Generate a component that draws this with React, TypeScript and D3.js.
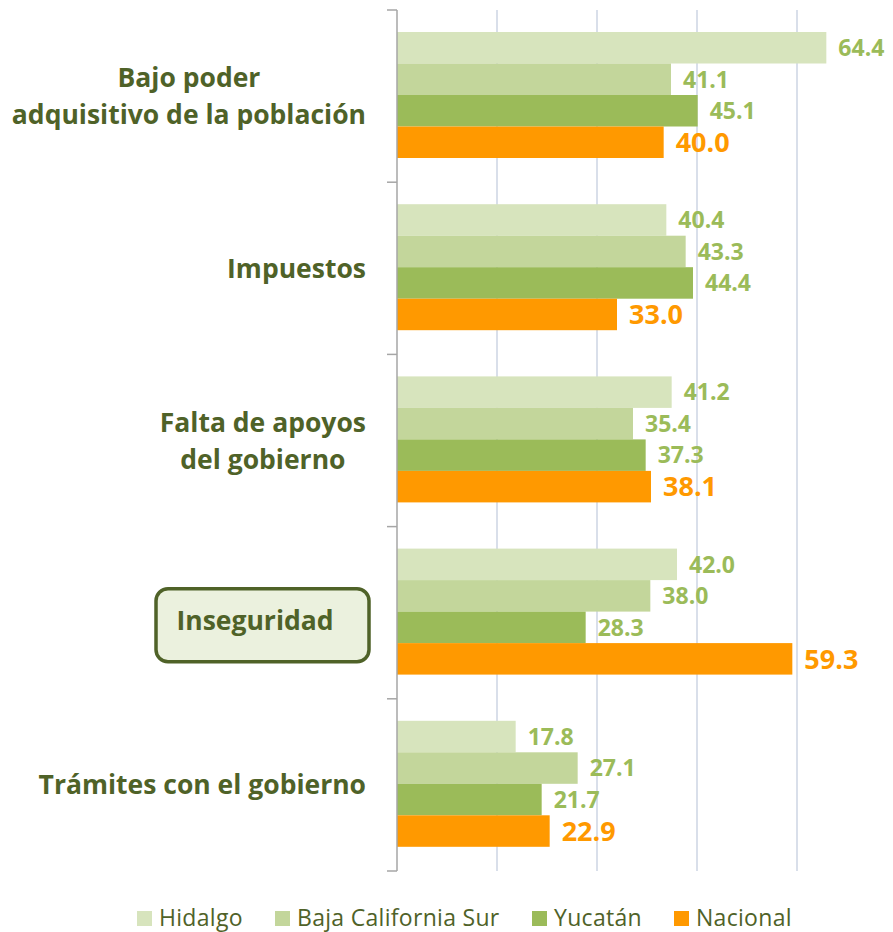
import { useEffect, useRef } from "react";
import * as d3 from "d3";

const categories = [
  ["Bajo poder", "adquisitivo de la población"],
  ["Impuestos"],
  ["Falta de apoyos", "del gobierno"],
  ["Inseguridad"],
  ["Trámites con el gobierno"],
];
const seriesNames = ["Hidalgo", "Baja California Sur", "Yucatán", "Nacional"];
const hidalgo = [64.4, 40.4, 41.2, 42.0, 17.8];
const bcs = [41.1, 43.3, 35.4, 38.0, 27.1];
const yucatan = [45.1, 44.4, 37.3, 28.3, 21.7];
const nacional = [40.0, 33.0, 38.1, 59.3, 22.9];
const gridTicks = [15, 30, 45, 60];
const highlighted = 3;

const colors = ["#d7e4bd", "#c3d69b", "#9bbb59", "#ff9900"];
const labelColors = ["#9bbb59", "#9bbb59", "#9bbb59", "#ff9900"];
const textColor = "#4f6228";
const font = "'Open Sans', sans-serif";

export default function App() {
  const ref = useRef<SVGSVGElement>(null);

  useEffect(() => {
    const left = 397, top = 10, bottom = 871;
    const svg = d3.select(ref.current);
    svg.selectAll("*").remove();

    const values = [hidalgo, bcs, yucatan, nacional];

    const x = d3.scaleLinear().domain([0, 75]).range([left, left + 500]);
    const y = d3.scaleBand<number>()
      .domain(d3.range(categories.length))
      .range([top, bottom]);
    const inner = d3.scaleBand<number>()
      .domain(d3.range(seriesNames.length))
      .range([22, 148]);

    // grid
    svg.append("g").selectAll("line")
      .data(gridTicks)
      .join("line")
      .attr("x1", d => x(d)).attr("x2", d => x(d))
      .attr("y1", top).attr("y2", bottom)
      .attr("stroke", "#d9dfea").attr("stroke-width", 2);

    // bars + value labels
    categories.forEach((_, ci) => {
      const g = svg.append("g").attr("transform", `translate(0,${y(ci)})`);
      values.forEach((arr, si) => {
        const v = arr[ci];
        g.append("rect")
          .attr("x", x(0))
          .attr("y", inner(si)!)
          .attr("width", x(v) - x(0))
          .attr("height", inner.bandwidth())
          .attr("fill", colors[si]);
        g.append("text")
          .attr("x", x(v) + 12)
          .attr("y", inner(si)! + inner.bandwidth() / 2)
          .attr("dy", "0.36em")
          .attr("fill", labelColors[si])
          .attr("font-family", font)
          .attr("font-weight", "bold")
          .attr("font-size", si === 3 ? 27 : 23)
          .text(v.toFixed(1));
      });
    });

    // axis line + ticks
    const axis = svg.append("g");
    axis.append("line")
      .attr("x1", left).attr("x2", left)
      .attr("y1", top).attr("y2", bottom)
      .attr("stroke", "#a6a6a6").attr("stroke-width", 1.5);
    axis.selectAll("line.tick")
      .data(d3.range(categories.length + 1))
      .join("line")
      .attr("class", "tick")
      .attr("x1", left - 10).attr("x2", left)
      .attr("y1", d => top + d * y.step()).attr("y2", d => top + d * y.step())
      .attr("stroke", "#a6a6a6").attr("stroke-width", 1.5);

    // highlight box
    const cy = y(highlighted)! + y.bandwidth() / 2;
    svg.append("rect")
      .attr("x", 156).attr("y", cy - 24)
      .attr("width", 213).attr("height", 73)
      .attr("rx", 12)
      .attr("fill", "#ebf1de")
      .attr("stroke", textColor).attr("stroke-width", 3.5);

    // category labels: lines centred on each other, block right-aligned
    categories.forEach((lines, ci) => {
      const c = y(ci)! + y.bandwidth() / 2;
      const isHi = ci === highlighted;
      const t = svg.append("text")
        .attr("text-anchor", "middle")
        .attr("fill", textColor)
        .attr("font-family", font)
        .attr("font-weight", "bold")
        .attr("font-size", 26.5);
      const spans = lines.map((ln, li) =>
        t.append("tspan")
          .attr("y", c + (li - (lines.length - 1) / 2) * 37 + (isHi ? 8 : 0))
          .attr("dy", "0.36em")
          .text(ln)
      );
      const maxW = d3.max(spans, s => (s.node() as SVGTSpanElement).getComputedTextLength()) || 0;
      const cx = isHi ? 255 : 366 - maxW / 2;
      spans.forEach(s => s.attr("x", cx));
    });

    // legend
    const legendX = [137, 275, 532, 674];
    const lg = svg.append("g");
    seriesNames.forEach((name, si) => {
      lg.append("rect")
        .attr("x", legendX[si]).attr("y", 911)
        .attr("width", 15).attr("height", 15)
        .attr("fill", colors[si]);
      lg.append("text")
        .attr("x", legendX[si] + 22).attr("y", 926)
        .attr("fill", textColor)
        .attr("font-family", font)
        .attr("font-size", 23)
        .attr("letter-spacing", 0.3)
        .text(name);
    });
  }, []);

  return (
    <svg
      ref={ref}
      width={893}
      height={932}
      style={{ position: "absolute", left: 0, top: 0, background: "#fff" }}
    />
  );
}
